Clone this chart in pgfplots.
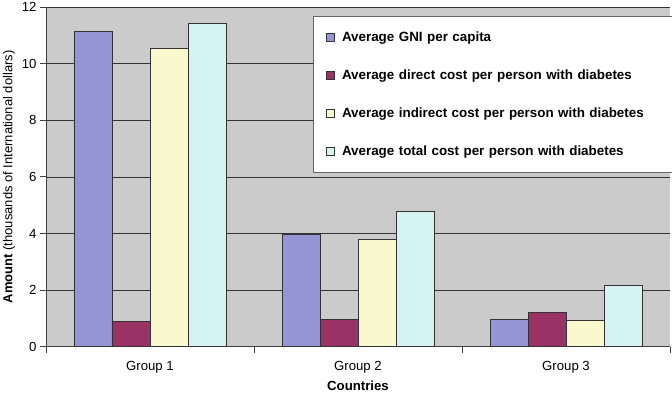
\documentclass[border=0pt]{standalone}
\usepackage{pgfplots}
\pgfplotsset{compat=1.18}
\usepackage{fontspec}
\setmainfont{Liberation Sans}
\definecolor{bg}{HTML}{CBCBCB}
\definecolor{cgni}{HTML}{9595D6}
\definecolor{cdir}{HTML}{993366}
\definecolor{cind}{HTML}{FAF8CF}
\definecolor{ctot}{HTML}{D5F3F3}
\begin{document}
\fontsize{13bp}{15bp}\selectfont
\begin{tikzpicture}
\begin{axis}[
  scale only axis,
  width=624bp, height=339.7bp,
  xmin=-0.5, xmax=2.5, ymin=0, ymax=12,
  ybar=0pt, bar width=38bp,
  axis lines=left,
  axis line style={-, draw=black!75, line width=0.8pt},
  axis background/.style={fill=bg},
  ymajorgrids,
  grid style={black!80, line width=0.6pt},
  xtick={0,1,2},
  xticklabels={Group 1, Group 2, Group 3},
  minor xtick={-0.5,0.5,1.5,2.5},
  ytick={0,2,4,6,8,10,12},
  tick align=outside,
  major tick length=6bp, minor tick length=6bp,
  x tick style={draw=none},
  minor x tick style={draw=black!75, line width=0.8pt},
  y tick style={draw=black!75, line width=0.8pt},
  tick label style={font=\fontsize{13.2bp}{15bp}\selectfont},
  /pgf/number format/assume math mode=true,
  yticklabel style={anchor=east, inner sep=0pt, xshift=-3.3bp},
  xticklabel style={anchor=base, inner sep=0pt, yshift=-17.3bp},
  xlabel={\textbf{Countries}},
  ylabel={\textbf{Amount} (thousands of International dollars)},
  xlabel style={at={(axis description cs:0.5,-0.1289)}, anchor=base, inner sep=0pt, font=\fontsize{13.2bp}{15bp}\selectfont},
  ylabel style={at={(axis description cs:-0.0593,0.5)}, anchor=center, inner sep=0pt, rotate=0, font=\fontsize{13bp}{15bp}\selectfont},
  every axis plot/.append style={draw=black!80, line width=0.7pt},
  legend style={at={(axis description cs:0.4279,0.9735)}, anchor=north west,
    draw=black!60, line width=0.8pt, fill=white,
    font=\bfseries\fontsize{13.4bp}{15bp}\selectfont,
    inner xsep=13bp, inner ysep=13bp, row sep=22.5bp,
    nodes={text width=318bp, align=left},
    /tikz/every odd column/.append style={column sep=5bp}},
  legend cell align=left,
  legend image code/.code={\draw[#1, line width=0.6pt] (0bp,-4bp) rectangle (8bp,4bp);},
  clip=false,
]
\addplot[fill=cgni] coordinates {(0,11.13) (1,3.98) (2,0.97)};
\addplot[fill=cdir] coordinates {(0,0.88) (1,0.97) (2,1.21)};
\addplot[fill=cind] coordinates {(0,10.55) (1,3.80) (2,0.92)};
\addplot[fill=ctot] coordinates {(0,11.42) (1,4.79) (2,2.16)};
\legend{Average GNI per capita, Average direct cost per person with diabetes, Average indirect cost per person with diabetes, Average total cost per person with diabetes}
\end{axis}
\pgfresetboundingbox
\path[use as bounding box] ([xshift=-46bp,yshift=-46.3bp]current axis.south west) rectangle ([xshift=2bp,yshift=7bp]current axis.north east);
\end{tikzpicture}
\end{document}
